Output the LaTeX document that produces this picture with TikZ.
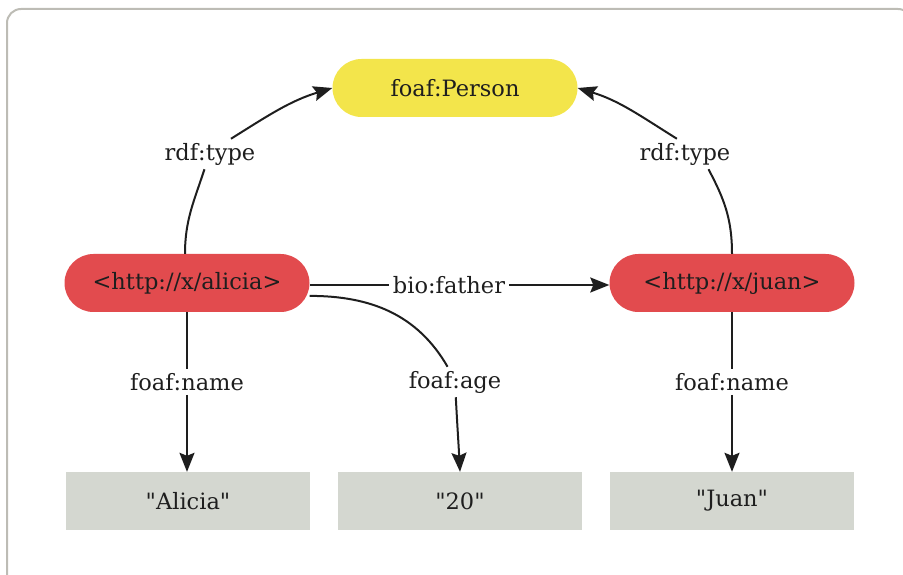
\documentclass[tikz,border=0pt]{standalone}
\usepackage{fontspec}
\setmainfont{DejaVu Serif}[Ligatures=TeXOff]
\usetikzlibrary{arrows.meta}
\definecolor{pyellow}{HTML}{F3E54B}
\definecolor{pred}{HTML}{E24B4E}
\definecolor{pgray}{HTML}{D4D7D0}
\definecolor{pframe}{HTML}{BDBCB5}
\definecolor{ptext}{HTML}{1E1E1E}
\begin{document}
\begin{tikzpicture}[x=1pt,y=1pt,
  every node/.style={font=\fontsize{22.5}{26}\selectfont,text=ptext},
  resnode/.style={minimum width=245pt,minimum height=58pt,rounded corners=29pt,inner sep=0pt},
  litnode/.style={fill=pgray,minimum width=244pt,minimum height=58pt,inner sep=0pt},
  lbl/.style={inner sep=4pt},
  edge/.style={line width=2pt,ptext},
  arr/.style={edge,-{Stealth[length=19pt,width=15pt,inset=3pt]}}]
\useasboundingbox (0,0) rectangle (903,574);
\begin{scope}
\clip (0,0) rectangle (903,574);
\draw[pframe,line width=2pt,rounded corners=14pt] (7,-20) rectangle (912,565);
\end{scope}
\node[resnode,fill=pyellow] (person) at (455,486) {foaf:Person};
\node[resnode,fill=pred] (alicia) at (187,291) {<http://x/alicia>};
\node[resnode,fill=pred] (juan) at (732,291) {<http://x/juan>};
\node[litnode] (lalicia) at (188,73) {"Alicia"};
\node[litnode] (l20) at (460,73) {"20"};
\node[litnode] (ljuan) at (732,73) {"Juan"};
\node[lbl] (lt) at (210,420) {rdf:type};
\node[lbl] (rt) at (685,420) {rdf:type};
\node[lbl] (bf) at (449,289) {bio:father};
\node[lbl] (ln) at (187,192) {foaf:name};
\node[lbl] (age) at (455,192) {foaf:age};
\node[lbl] (rn) at (732,192) {foaf:name};
% rdf:type left
\draw[edge] ([xshift=-2pt]alicia.north) to[out=90,in=-108] (lt.-110);
\draw[arr] (lt.36) to[out=32,in=197] (person.west);
% rdf:type right
\draw[edge] (juan.north) to[out=90,in=-62] (rt.-33);
\draw[arr] (rt.118) to[out=148,in=-17] (person.east);
% bio:father
\draw[edge] (alicia.east |- bf) -- (bf);
\draw[arr] (bf) -- (juan.west |- bf);
% foaf:name left
\draw[edge] (alicia.south) -- (ln);
\draw[arr] (ln) -- (lalicia.north -| ln);
% foaf:age
\draw[edge] (alicia.-6) to[out=0,in=120] (age.116);
\draw[arr] (age) to[out=-87,in=93] (l20.north);
% foaf:name right
\draw[edge] (juan.south) -- (rn);
\draw[arr] (rn) -- (ljuan.north);
\end{tikzpicture}
\end{document}
